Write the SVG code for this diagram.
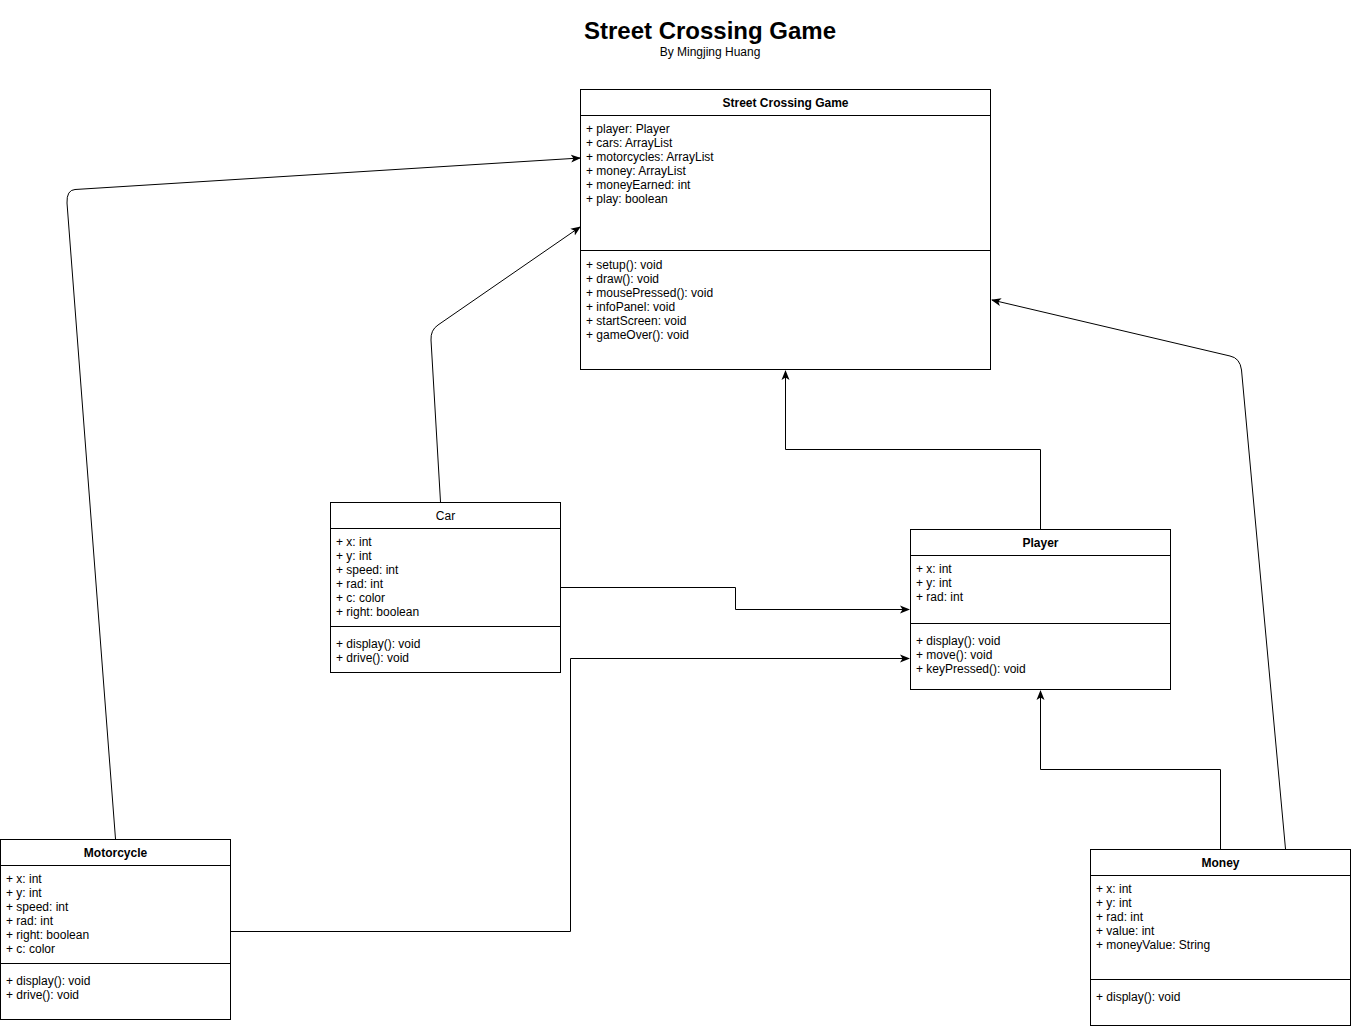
<svg xmlns="http://www.w3.org/2000/svg" width="1352" height="1029" viewBox="0 0 1352 1029">
<defs>
<marker id="arr" viewBox="0 0 10 10" refX="9" refY="5" markerWidth="10" markerHeight="10" markerUnits="userSpaceOnUse" orient="auto">
<path d="M0,1 L10,5 L0,9 L2.5,5 Z" fill="#000"/>
</marker>
<style>
text{font-family:"Liberation Sans",Arial,sans-serif;fill:#000}
.box{fill:#fff;stroke:#000;stroke-width:1}
.sep{stroke:#000;stroke-width:1}
.hd{font-size:12px;font-weight:bold;text-anchor:middle}
.it{font-size:12px}
.edge{fill:none;stroke:#000;stroke-width:1;marker-end:url(#arr)}
</style>
</defs>
<rect width="1352" height="1029" fill="#fff"/>
<text x="710" y="39" font-size="24" font-weight="bold" text-anchor="middle">Street Crossing Game</text>
<text x="710" y="56" font-size="12" text-anchor="middle">By Mingjing Huang</text>

<g id="connectors">
<path class="edge" d="M115.5,839 L67,203 Q66.5,190 75,189.5 L580,158"/>
<path class="edge" d="M440.5,502 L431,340 Q430.5,330 438,325 L580,227"/>
<path class="edge" d="M1040.5,529 L1040.5,449.5 L785.5,449.5 L785.5,371"/>
<path class="edge" d="M1285.5,849 L1241.5,370 Q1240,358 1230,356 L992,300"/>
<path class="edge" d="M560,587.5 L735.5,587.5 L735.5,609.5 L909,609.5"/>
<path class="edge" d="M230,931.5 L570.5,931.5 L570.5,658.5 L909,658.5"/>
<path class="edge" d="M1220.5,849 L1220.5,769.5 L1040.5,769.5 L1040.5,691"/>
</g>

<g id="street-crossing-game">
<rect class="box" x="580.5" y="89.5" width="410" height="280"/>
<line class="sep" x1="580.5" y1="115.5" x2="990.5" y2="115.5"/>
<line class="sep" x1="580.5" y1="250.5" x2="990.5" y2="250.5"/>
<text class="hd" x="785.5" y="107">Street Crossing Game</text>
<text class="it" x="586" y="133">+ player: Player</text>
<text class="it" x="586" y="147">+ cars: ArrayList</text>
<text class="it" x="586" y="161">+ motorcycles: ArrayList</text>
<text class="it" x="586" y="175">+ money: ArrayList</text>
<text class="it" x="586" y="189">+ moneyEarned: int</text>
<text class="it" x="586" y="203">+ play: boolean</text>
<text class="it" x="586" y="269">+ setup(): void</text>
<text class="it" x="586" y="283">+ draw(): void</text>
<text class="it" x="586" y="297">+ mousePressed(): void</text>
<text class="it" x="586" y="311">+ infoPanel: void</text>
<text class="it" x="586" y="325">+ startScreen: void</text>
<text class="it" x="586" y="339">+ gameOver(): void</text>
</g>

<g id="car">
<rect class="box" x="330.5" y="502.5" width="230" height="170"/>
<line class="sep" x1="330.5" y1="528.5" x2="560.5" y2="528.5"/>
<line class="sep" x1="330.5" y1="626.5" x2="560.5" y2="626.5"/>
<text class="hd" x="445.5" y="520" style="font-weight:normal">Car</text>
<text class="it" x="336" y="546">+ x: int</text>
<text class="it" x="336" y="560">+ y: int</text>
<text class="it" x="336" y="574">+ speed: int</text>
<text class="it" x="336" y="588">+ rad: int</text>
<text class="it" x="336" y="602">+ c: color</text>
<text class="it" x="336" y="616">+ right: boolean</text>
<text class="it" x="336" y="648">+ display(): void</text>
<text class="it" x="336" y="662">+ drive(): void</text>
</g>

<g id="player">
<rect class="box" x="910.5" y="529.5" width="260" height="160"/>
<line class="sep" x1="910.5" y1="555.5" x2="1170.5" y2="555.5"/>
<line class="sep" x1="910.5" y1="623.5" x2="1170.5" y2="623.5"/>
<text class="hd" x="1040.5" y="547">Player</text>
<text class="it" x="916" y="573">+ x: int</text>
<text class="it" x="916" y="587">+ y: int</text>
<text class="it" x="916" y="601">+ rad: int</text>
<text class="it" x="916" y="645">+ display(): void</text>
<text class="it" x="916" y="659">+ move(): void</text>
<text class="it" x="916" y="673">+ keyPressed(): void</text>
</g>

<g id="motorcycle">
<rect class="box" x="0.5" y="839.5" width="230" height="180"/>
<line class="sep" x1="0.5" y1="865.5" x2="230.5" y2="865.5"/>
<line class="sep" x1="0.5" y1="963.5" x2="230.5" y2="963.5"/>
<text class="hd" x="115.5" y="857">Motorcycle</text>
<text class="it" x="6" y="883">+ x: int</text>
<text class="it" x="6" y="897">+ y: int</text>
<text class="it" x="6" y="911">+ speed: int</text>
<text class="it" x="6" y="925">+ rad: int</text>
<text class="it" x="6" y="939">+ right: boolean</text>
<text class="it" x="6" y="953">+ c: color</text>
<text class="it" x="6" y="985">+ display(): void</text>
<text class="it" x="6" y="999">+ drive(): void</text>
</g>

<g id="money">
<rect class="box" x="1090.5" y="849.5" width="260" height="176"/>
<line class="sep" x1="1090.5" y1="875.5" x2="1350.5" y2="875.5"/>
<line class="sep" x1="1090.5" y1="979.5" x2="1350.5" y2="979.5"/>
<text class="hd" x="1220.5" y="867">Money</text>
<text class="it" x="1096" y="893">+ x: int</text>
<text class="it" x="1096" y="907">+ y: int</text>
<text class="it" x="1096" y="921">+ rad: int</text>
<text class="it" x="1096" y="935">+ value: int</text>
<text class="it" x="1096" y="949">+ moneyValue: String</text>
<text class="it" x="1096" y="1001">+ display(): void</text>
</g>
</svg>
